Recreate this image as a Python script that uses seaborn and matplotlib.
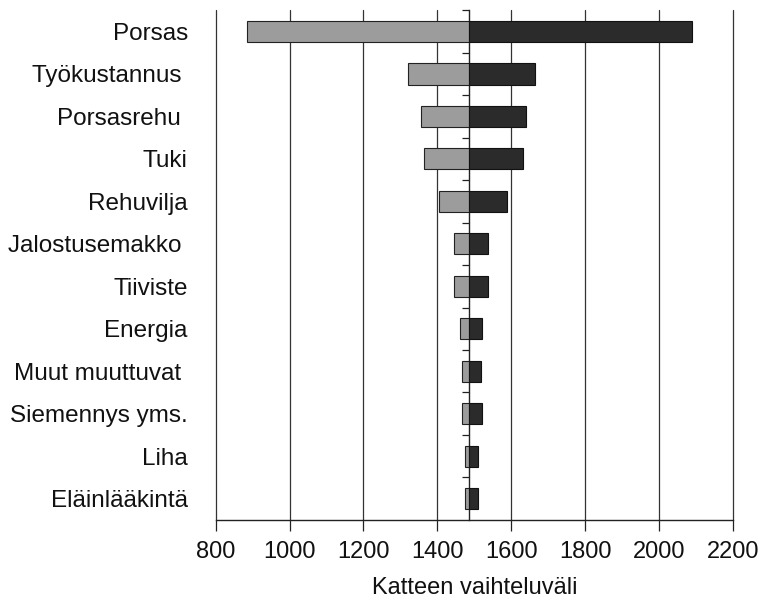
import numpy as np
import pandas as pd
import matplotlib
matplotlib.use("Agg")
import matplotlib.pyplot as plt
from matplotlib.ticker import FuncFormatter, FixedLocator
import seaborn as sns

# Sensitivity of the margin (katetuotto) to each input, low and high ends
categories = ["Porsas", "Työkustannus ", "Porsasrehu ", "Tuki", "Rehuvilja",
              "Jalostusemakko ", "Tiiviste", "Energia", "Muut muuttuvat ",
              "Siemennys yms.", "Liha", "Eläinlääkintä"]
low_values = [885, 1320, 1355, 1365, 1405, 1445, 1445, 1462, 1467, 1466, 1476, 1476]
high_values = [2088, 1665, 1640, 1632, 1588, 1537, 1538, 1522, 1519, 1520, 1510, 1511]
base_value = 1485
x_ticks = [800, 1000, 1200, 1400, 1600, 1800, 2000, 2200]

sns.set_theme(style="white")
plt.rcParams["font.family"] = ["Liberation Sans", "DejaVu Sans"]

df = pd.DataFrame({
    "kategoria": categories,
    "ala": np.array(low_values) - base_value,
    "yla": np.array(high_values) - base_value,
})

fig = plt.figure(figsize=(7.62, 6.01), dpi=100)
ax = fig.add_axes([0.283, 0.135, 0.679, 0.848])

# Bars are drawn as deviations from the base value; the axis labels show absolute values
sns.barplot(data=df, y="kategoria", x="ala", color="#9c9c9c", saturation=1,
            width=0.5, edgecolor="#222222", linewidth=0.8, ax=ax, orient="h")
sns.barplot(data=df, y="kategoria", x="yla", color="#2b2b2b", saturation=1,
            width=0.5, edgecolor="#111111", linewidth=0.8, ax=ax, orient="h")

ax.set_xlim(x_ticks[0] - base_value, x_ticks[-1] - base_value)
ax.set_ylim(len(categories) - 0.5, -0.5)
ax.xaxis.set_major_locator(FixedLocator([t - base_value for t in x_ticks]))
ax.xaxis.set_major_formatter(FuncFormatter(lambda v, p: f"{v + base_value:.0f}"))

ax.grid(axis="x", color="#333333", linewidth=0.9)
ax.grid(axis="y", visible=False)
ax.set_axisbelow(True)

for side in ["top", "right", "left"]:
    ax.spines[side].set_visible(False)
ax.spines["bottom"].set_color("#222222")
ax.spines["bottom"].set_linewidth(1.0)

ax.tick_params(axis="x", which="major", bottom=True, length=8, width=0.9,
               color="#222222", labelsize=17, pad=7, labelcolor="#111111")
ax.tick_params(axis="y", which="major", left=False, labelsize=17.5, pad=14,
               labelcolor="#111111")

ax.set_xlabel("Katteen vaihteluväli", fontsize=17, labelpad=10, color="#111111")
ax.set_ylabel("")

# Category axis crossing at the base value, with ticks between categories
frac = (base_value - x_ticks[0]) / (x_ticks[-1] - x_ticks[0])
sec = ax.secondary_yaxis(frac)
sec.spines["left"].set_color("#222222")
sec.spines["left"].set_linewidth(1.0)
sec.set_yticks(np.arange(-0.5, len(categories) - 0.5, 1.0))
sec.set_yticklabels([])
sec.tick_params(axis="y", direction="out", length=5, width=0.9, color="#222222")

fig.canvas.draw()
for line in ax.get_xgridlines():
    line.set_clip_on(False)

fig.savefig("out.png", dpi=100)
